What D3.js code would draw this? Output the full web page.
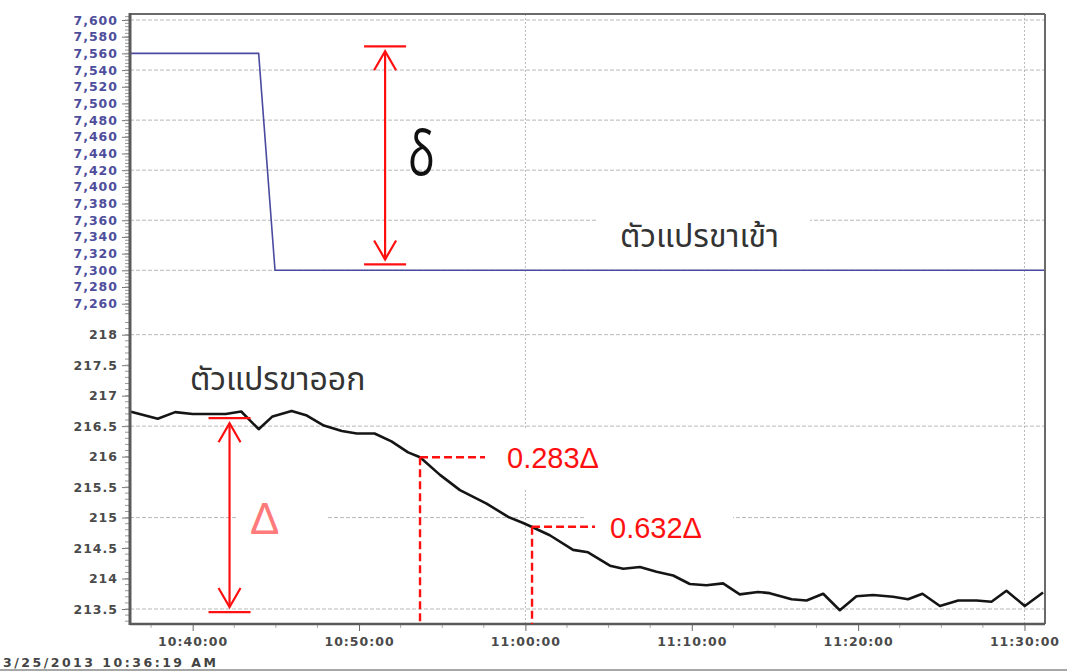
<!DOCTYPE html>
<html>
<head>
<meta charset="utf-8">
<script src="https://cdn.jsdelivr.net/npm/d3@7"></script>
<style>
  html, body { margin: 0; padding: 0; background: #fff; }
  svg { display: block; }
  .tick text { font-family: "DejaVu Sans", Verdana, sans-serif; }
</style>
</head>
<body>
<svg id="chart" width="1067" height="671"></svg>
<script>
// ---- data ----
const startTime = "10:36:14";
const endTime = "11:31:14";

// input (set point) series
const inputTimes  = ["10:36:14", "10:43:58", "10:44:57", "11:31:14"];
const inputValues = [7560, 7560, 7300, 7300];

// output (process variable) series
const outputTimes = [
  "10:36:14", "10:37:54", "10:38:57", "10:40:00", "10:41:59", "10:42:55", "10:43:58",
  "10:44:48", "10:45:57", "10:46:49", "10:47:53", "10:48:58", "10:49:52", "10:50:56",
  "10:51:57", "10:52:57", "10:53:40", "10:54:52", "10:56:04", "10:57:40", "10:58:58",
  "10:59:52", "11:00:22", "11:01:28", "11:02:52", "11:03:46", "11:05:05", "11:05:53",
  "11:06:53", "11:07:53", "11:08:53", "11:09:53", "11:10:53", "11:11:53", "11:12:53",
  "11:13:59", "11:14:41", "11:16:00", "11:16:54", "11:17:54", "11:18:54", "11:19:54",
  "11:20:54", "11:22:06", "11:23:00", "11:23:52", "11:24:55", "11:26:01", "11:27:07",
  "11:28:01", "11:28:55", "11:30:01", "11:31:07"
];
const outputValues = [
  216.74, 216.62, 216.73, 216.70, 216.70, 216.74, 216.45,
  216.66, 216.75, 216.68, 216.51, 216.42, 216.38, 216.38,
  216.25, 216.07, 215.99, 215.70, 215.45, 215.23, 215.01,
  214.91, 214.85, 214.71, 214.47, 214.43, 214.21, 214.16,
  214.19, 214.11, 214.05, 213.91, 213.89, 213.92, 213.74,
  213.78, 213.76, 213.66, 213.64, 213.75, 213.48, 213.71,
  213.73, 213.70, 213.66, 213.75, 213.55, 213.64, 213.64,
  213.62, 213.80, 213.55, 213.77
];

// axis ticks
const topTicks = [7260, 7280, 7300, 7320, 7340, 7360, 7380, 7400, 7420, 7440, 7460,
                  7480, 7500, 7520, 7540, 7560, 7580, 7600];
const topGrid = [7300, 7360, 7420, 7480, 7540, 7600];
const bottomTicks = [213.5, 214, 214.5, 215, 215.5, 216, 216.5, 217, 217.5, 218];
const bottomGrid = [213.5, 215, 216.5, 218];
const verticalGrid = ["11:00:00", "11:30:00"];
const dateLabel = "3/25/2013 10:36:19 AM";

// annotations
const deltaInput = { time: "10:51:34", from: 7568.5, to: 7307 };
const deltaOutput = { time: "10:42:13", from: 216.63, to: 213.45 };
const markers = [
  { time: "10:53:40", value: 215.99, label: "0.283Δ" },
  { time: "11:00:24", value: 214.85, label: "0.632Δ" }
];

// ---- scales ----
const parse = d3.timeParse("%H:%M:%S");
const svg = d3.select("#chart");
const plotLeft = 130, plotRight = 1045, plotTop = 14, plotBottom = 624;

const x = d3.scaleTime().domain([parse(startTime), parse(endTime)]).range([plotLeft, plotRight]);
const yTop = d3.scaleLinear().domain([7300, 7600]).range([270.3, 20]);
const yBot = d3.scaleLinear().domain([213.5, 218]).range([609, 334.7]);

const gridColor = "#b8b8b8";

// ---- gridlines ----
const grid = svg.append("g");
grid.selectAll(".hgt").data(topGrid).join("line")
  .attr("x1", plotLeft).attr("x2", plotRight)
  .attr("y1", d => yTop(d)).attr("y2", d => yTop(d))
  .attr("stroke", gridColor).attr("stroke-width", 1).attr("stroke-dasharray", "4,2");
grid.selectAll(".hgb").data(bottomGrid).join("line")
  .attr("x1", plotLeft).attr("x2", plotRight)
  .attr("y1", d => yBot(d)).attr("y2", d => yBot(d))
  .attr("stroke", gridColor).attr("stroke-width", 1).attr("stroke-dasharray", "4,2");
grid.selectAll(".vg").data(verticalGrid).join("line")
  .attr("x1", d => x(parse(d))).attr("x2", d => x(parse(d)))
  .attr("y1", plotTop).attr("y2", plotBottom)
  .attr("stroke", gridColor).attr("stroke-width", 1).attr("stroke-dasharray", "2,2");

// white label backgrounds over the grid
const boxes = svg.append("g").attr("fill", "#fff");
boxes.append("rect").attr("x", 598).attr("y", 205).attr("width", 212).attr("height", 56);
boxes.append("rect").attr("x", 238).attr("y", 495).attr("width", 89).attr("height", 46);
boxes.append("rect").attr("x", 490).attr("y", 430).attr("width", 125).attr("height", 58);
boxes.append("rect").attr("x", 584).attr("y", 505).attr("width", 149).attr("height", 43);

// ---- series ----
const inputData = inputTimes.map((t, i) => ({ t: parse(t), v: inputValues[i] }));
const outputData = outputTimes.map((t, i) => ({ t: parse(t), v: outputValues[i] }));

svg.append("path").datum(inputData)
  .attr("fill", "none").attr("stroke", "#4a4aa0").attr("stroke-width", 1.6)
  .attr("d", d3.line().x(d => x(d.t)).y(d => yTop(d.v)));

svg.append("path").datum(outputData)
  .attr("fill", "none").attr("stroke", "#151515").attr("stroke-width", 2.6)
  .attr("stroke-linejoin", "round")
  .attr("d", d3.line().x(d => x(d.t)).y(d => yBot(d.v)));

// ---- axes ----
const axisColor = "#5a5a5a";
const labelStyle = sel => sel.style("font-size", "12.5px").style("font-weight", "bold")
  .style("letter-spacing", "1px").attr("dx", "1px");

const topAxis = svg.append("g").attr("transform", `translate(${plotLeft},0)`)
  .call(d3.axisLeft(yTop).tickValues(topTicks).tickFormat(d3.format(",")).tickSize(8).tickPadding(5));
topAxis.select(".domain").remove();
topAxis.selectAll("line").attr("stroke", "#777");
topAxis.selectAll("text").attr("fill", "#4e4e9c").call(labelStyle);

const botAxis = svg.append("g").attr("transform", `translate(${plotLeft},0)`)
  .call(d3.axisLeft(yBot).tickValues(bottomTicks).tickFormat(d3.format("~f")).tickSize(8).tickPadding(5));
botAxis.select(".domain").remove();
botAxis.selectAll("line").attr("stroke", "#777");
botAxis.selectAll("text").attr("fill", "#4a4a4a").call(labelStyle);

// minor y ticks
const minorTop = d3.range(7248, 7605, 4);
const minorBot = d3.range(213.3, 218.25, 0.1);
const minor = svg.append("g").attr("stroke", "#999").attr("stroke-width", 1);
minor.selectAll(".mt").data(minorTop).join("line")
  .attr("x1", plotLeft - 5).attr("x2", plotLeft)
  .attr("y1", d => yTop(d)).attr("y2", d => yTop(d));
minor.selectAll(".mb").data(minorBot).join("line")
  .attr("x1", plotLeft - 5).attr("x2", plotLeft)
  .attr("y1", d => yBot(d)).attr("y2", d => yBot(d));

// x axis
const xAxis = svg.append("g").attr("transform", `translate(0,${plotBottom})`)
  .call(d3.axisBottom(x).ticks(d3.timeMinute.every(10)).tickFormat(d3.timeFormat("%H:%M:%S"))
    .tickSize(7).tickPadding(6));
xAxis.select(".domain").remove();
xAxis.selectAll("line").attr("stroke", "#666");
xAxis.selectAll("text").attr("fill", "#4a4a4a").style("font-size", "12.5px")
  .style("font-weight", "bold").style("letter-spacing", "1px");

const minorX = d3.range(+parse("10:37:30"), +parse(endTime), 150000)
  .map(ms => new Date(ms))
  .filter(d => d.getMinutes() % 10 !== 0 || d.getSeconds() !== 0);
svg.append("g").selectAll("line").data(minorX).join("line")
  .attr("x1", d => x(d)).attr("x2", d => x(d))
  .attr("y1", plotBottom).attr("y2", plotBottom + 4)
  .attr("stroke", "#aaa").attr("stroke-width", 1);

// frame
svg.append("line").attr("x1", plotLeft).attr("x2", plotRight).attr("y1", plotTop).attr("y2", plotTop)
  .attr("stroke", "#6a6a6a").attr("stroke-width", 2);
svg.append("line").attr("x1", plotRight).attr("x2", plotRight).attr("y1", plotTop).attr("y2", plotBottom)
  .attr("stroke", "#6a6a6a").attr("stroke-width", 2);
svg.append("line").attr("x1", plotLeft).attr("x2", plotRight).attr("y1", plotBottom).attr("y2", plotBottom)
  .attr("stroke", axisColor).attr("stroke-width", 2.5);
svg.append("line").attr("x1", plotLeft).attr("x2", plotLeft).attr("y1", plotTop - 1).attr("y2", plotBottom + 1)
  .attr("stroke", axisColor).attr("stroke-width", 3);

// date stamp and bottom rule
svg.append("text").attr("x", 3).attr("y", 667).text(dateLabel)
  .attr("fill", "#444").style("font-family", "DejaVu Sans, Verdana, sans-serif")
  .style("font-size", "12.5px").style("font-weight", "bold")
  .attr("textLength", 213).attr("lengthAdjust", "spacing");
svg.append("line").attr("x1", 0).attr("x2", 1067).attr("y1", 670).attr("y2", 670)
  .attr("stroke", "#8a8a8a").attr("stroke-width", 1.5);

// ---- annotations ----
const red = "#ff1010";
function spanArrow(g, cx, yA, yB) {
  // yA: top bar, yB: bottom bar
  const inset = 5, armW = 11, armH = 19;
  g.append("line").attr("x1", cx - 21).attr("x2", cx + 21).attr("y1", yA).attr("y2", yA);
  g.append("line").attr("x1", cx - 21).attr("x2", cx + 21).attr("y1", yB).attr("y2", yB);
  g.append("line").attr("x1", cx).attr("x2", cx).attr("y1", yA + inset).attr("y2", yB - inset);
  g.append("polyline").attr("fill", "none")
    .attr("points", `${cx - armW},${yA + inset + armH} ${cx},${yA + inset} ${cx + armW},${yA + inset + armH}`);
  g.append("polyline").attr("fill", "none")
    .attr("points", `${cx - armW},${yB - inset - armH} ${cx},${yB - inset} ${cx + armW},${yB - inset - armH}`);
}
const ann = svg.append("g").attr("stroke", red).attr("stroke-width", 2.2);
spanArrow(ann, x(parse(deltaInput.time)), yTop(deltaInput.from), yTop(deltaInput.to));
spanArrow(ann, x(parse(deltaOutput.time)), yBot(deltaOutput.from), yBot(deltaOutput.to));

const dashed = svg.append("g").attr("stroke", red).attr("stroke-width", 2.4)
  .attr("stroke-dasharray", "8,4").attr("fill", "none");
markers.forEach((m, i) => {
  const mx = x(parse(m.time)), my = yBot(m.value);
  dashed.append("line").attr("x1", mx).attr("x2", mx).attr("y1", my).attr("y2", plotBottom);
  dashed.append("line").attr("x1", mx).attr("x2", mx + (i === 0 ? 65 : 63)).attr("y1", my).attr("y2", my);
  svg.append("text").attr("x", mx + (i === 0 ? 87 : 78)).attr("y", my + 11)
    .text(m.label).attr("fill", red)
    .style("font-family", "Liberation Sans, Arial, sans-serif").style("font-size", "29px");
});

// symbols and series labels
svg.append("text").attr("transform", "translate(408,175) scale(0.72,1)")
  .text("δ").attr("fill", "#111")
  .style("font-family", "'Open Sans', 'Noto Sans', sans-serif").style("font-size", "62px");
svg.append("text").attr("x", 250).attr("y", 534)
  .text("Δ").attr("fill", "#ff7a7a")
  .style("font-family", "Liberation Sans, Arial, sans-serif").style("font-size", "44px");

const thaiFont = "'Noto Sans Thai', 'Noto Sans Thai Looped', Loma, Garuda, 'Tlwg Typo', 'Noto Sans', sans-serif";
svg.append("text").attr("x", 620).attr("y", 247).text("ตัวแปรขาเข้า")
  .attr("fill", "#333").style("font-family", thaiFont).style("font-size", "32px");
svg.append("text").attr("x", 190).attr("y", 390).text("ตัวแปรขาออก")
  .attr("fill", "#333").style("font-family", thaiFont).style("font-size", "32px");
</script>
</body>
</html>
